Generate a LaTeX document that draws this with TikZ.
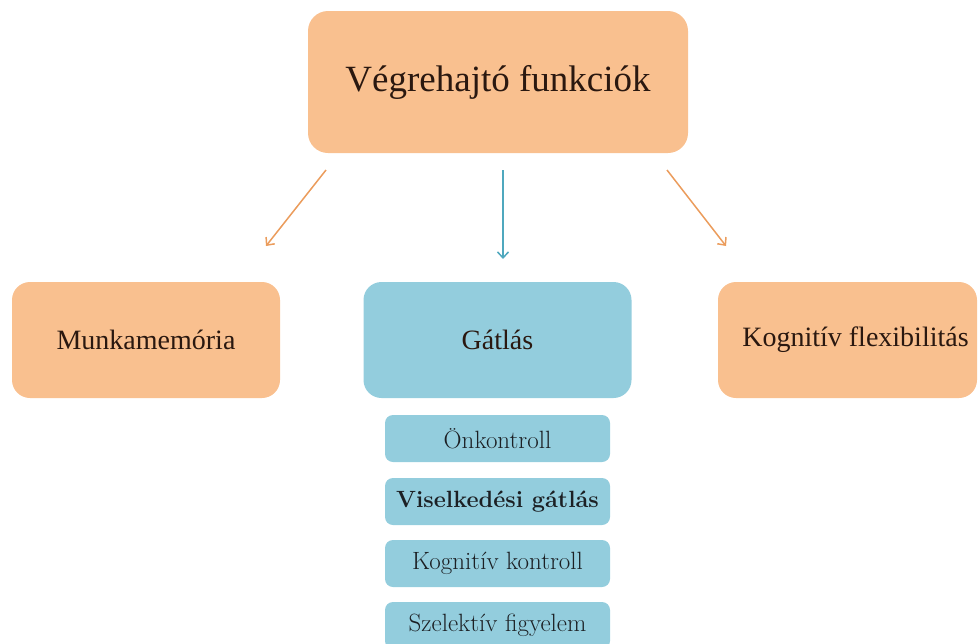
\documentclass[tikz,border=0pt]{standalone}
\usepackage{fontspec}
\newfontfamily\timesfont{Liberation Serif}
\usetikzlibrary{arrows.meta}
\definecolor{peach}{HTML}{F9C08F}
\definecolor{skyfill}{HTML}{93CDDD}
\definecolor{orangeline}{HTML}{EB9C5C}
\definecolor{blueline}{HTML}{4FA8BE}
\definecolor{inktext}{HTML}{2A1810}
\definecolor{smallink}{HTML}{1C2024}
\tikzset{
  peachbox/.style={fill=peach, draw=none, inner sep=0pt, text=inktext},
  skybox/.style={fill=skyfill, draw=none, inner sep=0pt, text=inktext},
  bigbox/.style={minimum width=268pt, minimum height=116pt, rounded corners=18pt, font=\timesfont\fontsize{28}{30}\selectfont},
  smallbox/.style={skybox, text=smallink, minimum width=225pt, minimum height=47pt, rounded corners=8pt, font=\fontsize{25}{28}\selectfont},
  orangearrow/.style={draw=orangeline, line width=1.5pt, -{Straight Barb[length=6pt,width=11pt,line width=1.5pt]}},
  bluearrow/.style={draw=blueline, line width=1.5pt, -{Straight Barb[length=6pt,width=11pt,line width=1.5pt]}}
}
\begin{document}
\begin{tikzpicture}[x=1pt,y=-1pt]
\useasboundingbox (0,0) rectangle (980,643);
\clip (0,0) rectangle (980,643);
\node[peachbox, minimum width=380pt, minimum height=142pt, rounded corners=20pt, font=\timesfont\fontsize{37}{40}\selectfont] (top) at (498,82) {Végrehajtó funkciók};
\node[peachbox, bigbox] (munka) at (146,340) {Munkamemória};
\node[skybox, bigbox] (gatlas) at (497.5,340) {Gátlás};
\node[peachbox, bigbox, minimum width=259pt] (flex) at (847.5,340) {\hspace*{16pt}Kognitív flexibilitás};
\node[smallbox] (s1) at (497.5,438.5) {Önkontroll};
\node[smallbox, font=\fontsize{23.5}{26}\selectfont\bfseries] (s2) at (497.5,501.5) {Viselkedési gátlás};
\node[smallbox] (s3) at (497.5,563.5) {Kognitív kontroll};
\node[smallbox] (s4) at (497.5,625.5) {Szelektív figyelem};
\coordinate (l0) at (326,170);
\coordinate (l1) at (266,246);
\coordinate (c0) at (503,170);
\coordinate (c1) at (503,259);
\coordinate (r0) at (667,170);
\coordinate (r1) at (726,246);
\draw[orangearrow] (l0) -- (l1);
\draw[bluearrow] (c0) -- (c1);
\draw[orangearrow] (r0) -- (r1);
\end{tikzpicture}
\end{document}
